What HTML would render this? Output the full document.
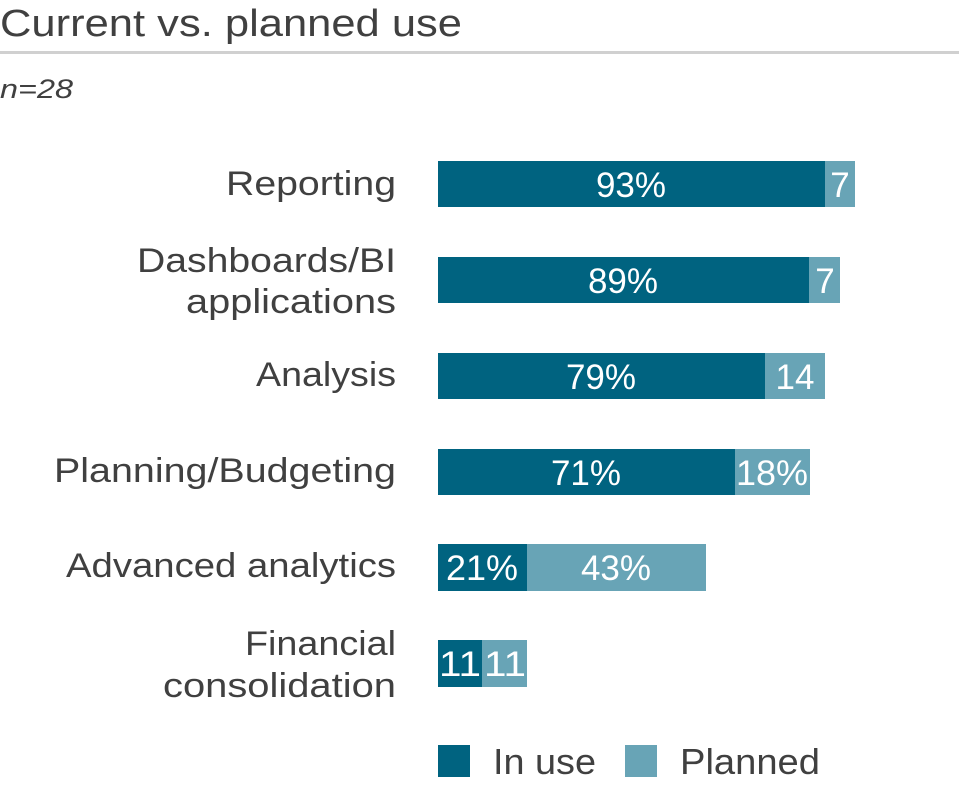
<!DOCTYPE html>
<html><head><meta charset="utf-8"><style>
body{margin:0;background:#fff;}
svg{display:block;font-family:"Liberation Sans",sans-serif;}
</style></head><body>
<svg width="959" height="785" viewBox="0 0 959 785">
<text x="0" y="36" font-size="38" fill="#404040" textLength="462" lengthAdjust="spacingAndGlyphs">Current vs. planned use</text>
<rect x="0" y="51" width="959" height="3" fill="#d0d0d0"/>
<text x="0" y="98" font-size="27" font-style="italic" fill="#404040" textLength="73" lengthAdjust="spacingAndGlyphs">n=28</text>
<g font-size="34" fill="#404040" lengthAdjust="spacingAndGlyphs">
<text x="226" y="195" textLength="170" lengthAdjust="spacingAndGlyphs">Reporting</text>
<text x="137" y="272" textLength="259" lengthAdjust="spacingAndGlyphs">Dashboards/BI</text>
<text x="186" y="313" textLength="210" lengthAdjust="spacingAndGlyphs">applications</text>
<text x="256" y="386" textLength="140" lengthAdjust="spacingAndGlyphs">Analysis</text>
<text x="54" y="482" textLength="342" lengthAdjust="spacingAndGlyphs">Planning/Budgeting</text>
<text x="66" y="577" textLength="330" lengthAdjust="spacingAndGlyphs">Advanced analytics</text>
<text x="245" y="655" textLength="151" lengthAdjust="spacingAndGlyphs">Financial</text>
<text x="163" y="697" textLength="233" lengthAdjust="spacingAndGlyphs">consolidation</text>
</g>
<g>
<rect x="438" y="161" width="387" height="46" fill="#006380"/><rect x="825" y="161" width="30" height="46" fill="#68a4b6"/>
<rect x="438" y="257" width="371" height="46" fill="#006380"/><rect x="809" y="257" width="31" height="46" fill="#68a4b6"/>
<rect x="438" y="353" width="327" height="46" fill="#006380"/><rect x="765" y="353" width="60" height="46" fill="#68a4b6"/>
<rect x="438" y="449" width="297" height="46" fill="#006380"/><rect x="735" y="449" width="75" height="46" fill="#68a4b6"/>
<rect x="438" y="544" width="89" height="47" fill="#006380"/><rect x="527" y="544" width="179" height="47" fill="#68a4b6"/>
<rect x="438" y="640" width="44" height="47" fill="#006380"/><rect x="482" y="640" width="45" height="47" fill="#68a4b6"/>
</g>
<g font-size="35" fill="#fff" text-anchor="middle">
<text x="631" y="197">93%</text><text x="840" y="197">7</text>
<text x="623" y="293">89%</text><text x="825" y="293">7</text>
<text x="601" y="389">79%</text><text x="795" y="389">14</text>
<text x="586" y="485">71%</text><text x="772" y="485" textLength="72" lengthAdjust="spacingAndGlyphs">18%</text>
<text x="482" y="580" textLength="72" lengthAdjust="spacingAndGlyphs">21%</text><text x="616" y="580">43%</text>
<text x="460" y="676" textLength="42" lengthAdjust="spacingAndGlyphs">11</text><text x="505" y="676" textLength="42" lengthAdjust="spacingAndGlyphs">11</text>
</g>
<rect x="438" y="745" width="32" height="32" fill="#006380"/>
<text x="493" y="774" font-size="36" fill="#404040" textLength="103" lengthAdjust="spacingAndGlyphs">In use</text>
<rect x="625" y="745" width="32" height="32" fill="#68a4b6"/>
<text x="680" y="774" font-size="36" fill="#404040" textLength="140" lengthAdjust="spacingAndGlyphs">Planned</text>
</svg>
</body></html>
